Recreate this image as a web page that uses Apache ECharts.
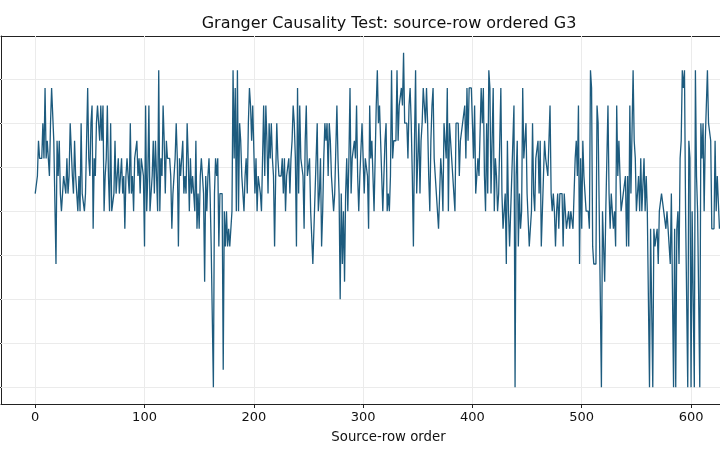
<!DOCTYPE html>
<html>
<head>
<meta charset="utf-8">
<script src="https://cdn.jsdelivr.net/npm/echarts@6/dist/echarts.min.js"></script>
<style>
html,body{margin:0;padding:0;background:#fff;}
#chart{width:720px;height:460px;}
</style>
</head>
<body>
<div id="chart"></div>
<script>
// Values (discrete levels), source-row order 0..626
const seg0 = [11,11,12,14,13,13,13,15,13,17, 13,14,13,12,15,17,17,14,14,7, 14,12,14,11,10,10,12,12,11,13, 11,12,15,15,12,11,14,12,11,10, 12,10,15,11,11,10,11,11,17,13, 12,15,16,9,13,12,15,16,16,14, 16,14,16,10,12,13,16,12,10,15, 10,10,11,14,11,11,13,11,11,13, 11,12,9,12,13,12,11,15,11,12, 10,13,13,14,12,13,11,13,13,12];
const seg1 = [8,16,10,12,16,10,10,12,14,11, 14,14,10,18,10,13,12,16,14,11, 14,13,13,13,12,9,11,11,13,15, 13,8,13,12,13,14,11,12,11,15, 13,10,13,11,12,11,10,14,9,11, 9,12,13,13,11,6,12,10,12,13, 11,8,8,0,11,13,12,13,8,11, 11,11,1,10,8,10,8,9,8,8, 10,18,13,17,10,18,10,15,14,12, 12,10,12,13,11,15,17,16,14,16];
const seg2 = [16,11,13,10,12,12,11,10,13,16, 12,16,14,11,15,13,15,13,12,8, 12,15,13,12,12,12,13,11,13,10, 12,12,13,11,13,14,16,15,13,8, 17,11,16,13,13,12,9,14,16,12, 12,13,10,10,7,9,9,13,15,10, 11,13,8,10,13,15,14,15,12,15, 14,12,11,10,11,11,16,13,11,5, 11,7,10,6,11,13,10,13,17,11, 13,13,14,13,16,12,10,12,12,15];
const seg3 = [15,11,13,13,12,9,16,13,14,12, 10,13,16,18,15,16,14,12,10,12, 14,15,10,11,10,12,18,13,14,14, 14,18,14,16,16,17,16,19,15,15, 15,13,16,17,15,12,8,14,18,11, 13,15,11,14,15,17,16,15,17,15, 12,10,14,16,17,13,12,11,11,9, 11,13,12,10,15,14,13,17,10,15, 14,13,12,11,10,15,15,15,12,14, 14,15,15,16,13,17,14,17,17,17];
const seg4 = [15,13,16,11,12,13,12,12,17,15, 17,12,10,15,11,18,17,11,14,17, 10,13,12,10,11,11,17,11,9,10, 11,7,14,10,8,10,12,12,16,0, 12,14,8,11,9,10,17,13,14,15, 11,11,8,9,10,15,11,10,13,13, 14,11,14,8,10,12,14,13,13,12, 12,16,11,10,11,10,8,10,11,9, 11,11,11,8,11,10,9,9,10,9, 10,10,9,9,13,14,12,16,7,13];
const seg5 = [9,14,12,11,10,10,10,9,18,17, 8,7,7,7,16,15,15,5,0,10, 8,6,10,10,16,11,9,11,11,9, 10,8,16,12,14,12,10,10,11,11, 12,8,12,8,16,11,11,18,14,13, 10,10,12,10,13,10,10,13,10,12, 10,10,0,9,9,0,9,8,8,9, 7,10,10,11,11,10,10,9,10,9, 9,7,11,11,0,9,0,9,10,7, 13,14,18,17,18,10,10,0,14,13, 0,10,10,0,18,12,10,10,0,15, 13,15,10,14,14,18,15,15,14,9, 9,9,14,10,12,12,9];
const values = [].concat(seg0, seg1, seg2, seg3, seg4, seg5);
const xTicks = [0, 100, 200, 300, 400, 500, 600];
const yTicks = [0, 2.5, 5, 7.5, 10, 12.5, 15, 17.5];

const chart = echarts.init(document.getElementById('chart'), null, {renderer: 'canvas'});
const lineColor = '#1d5b7e';
const axisColor = '#222';
const gridColor = '#ebebeb';
const font = 'DejaVu Sans';
const xMin = -31.3, xMax = 626.5;

const gridLines = xTicks.map(v => ({xAxis: v})).concat(yTicks.map(v => ({yAxis: v})));

chart.setOption({
  animation: false,
  backgroundColor: '#fff',
  title: {
    text: 'Granger Causality Test: source-row ordered G3',
    left: 384, top: 11, textAlign: 'center',
    textStyle: {fontFamily: font, fontSize: 16, fontWeight: 'normal', color: '#111'}
  },
  grid: {
    left: 1, top: 36, width: 719, height: 368,
    show: false, containLabel: false
  },
  xAxis: [{
    type: 'value', min: xMin, max: xMax, position: 'bottom',
    name: 'Source-row order', nameLocation: 'middle', nameGap: 27,
    nameTextStyle: {fontFamily: font, fontSize: 13.3, color: '#111', padding: [0, 0, 0, 56]},
    axisLine: {show: true, onZero: false, lineStyle: {color: axisColor, width: 1}},
    axisTick: {show: true, length: 4, lineStyle: {color: axisColor}, customValues: xTicks},
    axisLabel: {show: true, fontFamily: font, fontSize: 13, color: '#111', margin: 7, customValues: xTicks},
    splitLine: {show: false}
  }, {
    type: 'value', min: xMin, max: xMax, position: 'top',
    axisLine: {show: true, onZero: false, lineStyle: {color: axisColor, width: 1}},
    axisTick: {show: false}, axisLabel: {show: false}, splitLine: {show: false}
  }],
  yAxis: {
    type: 'value', min: -0.95, max: 19.95,
    axisLine: {show: true, onZero: false, lineStyle: {color: axisColor, width: 1}},
    axisTick: {show: true, length: 4, lineStyle: {color: axisColor}, customValues: yTicks},
    axisLabel: {show: false},
    splitLine: {show: false}
  },
  series: [
    {
      type: 'line', data: [], z: 1, silent: true,
      markLine: {
        z: 1, silent: true, symbol: ['none', 'none'], label: {show: false},
        lineStyle: {color: gridColor, type: 'solid', width: 1},
        emphasis: {disabled: true},
        data: gridLines
      }
    },
    {
      type: 'line', z: 3,
      data: values.map((v, i) => [i, v]),
      showSymbol: false, symbol: 'none',
      lineStyle: {color: lineColor, width: 1.3},
      itemStyle: {color: lineColor}
    }
  ]
});
</script>
</body>
</html>
